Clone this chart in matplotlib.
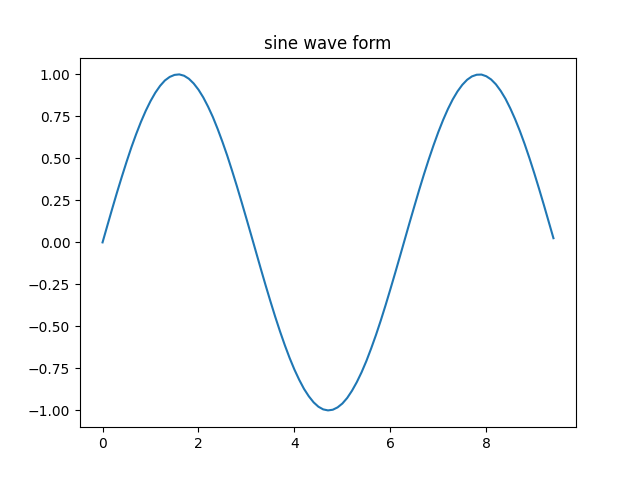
import matplotlib
matplotlib.use("Agg")
import matplotlib.pyplot as plt

# x positions (step 0.1) and the sine values
x = [0.0, 0.1, 0.2, 0.3, 0.4, 0.5, 0.6, 0.7, 0.8, 0.9,
     1.0, 1.1, 1.2, 1.3, 1.4, 1.5, 1.6, 1.7, 1.8, 1.9,
     2.0, 2.1, 2.2, 2.3, 2.4, 2.5, 2.6, 2.7, 2.8, 2.9,
     3.0, 3.1, 3.2, 3.3, 3.4, 3.5, 3.6, 3.7, 3.8, 3.9,
     4.0, 4.1, 4.2, 4.3, 4.4, 4.5, 4.6, 4.7, 4.8, 4.9,
     5.0, 5.1, 5.2, 5.3, 5.4, 5.5, 5.6, 5.7, 5.8, 5.9,
     6.0, 6.1, 6.2, 6.3, 6.4, 6.5, 6.6, 6.7, 6.8, 6.9,
     7.0, 7.1, 7.2, 7.3, 7.4, 7.5, 7.6, 7.7, 7.8, 7.9,
     8.0, 8.1, 8.2, 8.3, 8.4, 8.5, 8.6, 8.7, 8.8, 8.9,
     9.0, 9.1, 9.2, 9.3, 9.4]
y = [0.000, 0.100, 0.199, 0.296, 0.389, 0.479, 0.565, 0.644, 0.717, 0.783,
     0.841, 0.891, 0.932, 0.964, 0.985, 0.997, 1.000, 0.992, 0.974, 0.946,
     0.909, 0.863, 0.808, 0.746, 0.675, 0.598, 0.516, 0.427, 0.335, 0.239,
     0.141, 0.042, -0.058, -0.158, -0.256, -0.351, -0.443, -0.530, -0.612, -0.688,
     -0.757, -0.818, -0.872, -0.916, -0.952, -0.978, -0.994, -1.000, -0.996, -0.982,
     -0.959, -0.926, -0.883, -0.832, -0.773, -0.706, -0.631, -0.551, -0.465, -0.374,
     -0.279, -0.182, -0.083, 0.017, 0.117, 0.215, 0.312, 0.405, 0.494, 0.578,
     0.657, 0.729, 0.794, 0.851, 0.899, 0.938, 0.968, 0.988, 0.998, 0.999,
     0.989, 0.970, 0.941, 0.902, 0.855, 0.798, 0.734, 0.663, 0.585, 0.501,
     0.412, 0.319, 0.223, 0.124, 0.025]

plt.figure(figsize=(6.4, 4.8), dpi=100)
plt.plot(x, y)
plt.title("sine wave form")
plt.savefig("out.png")
